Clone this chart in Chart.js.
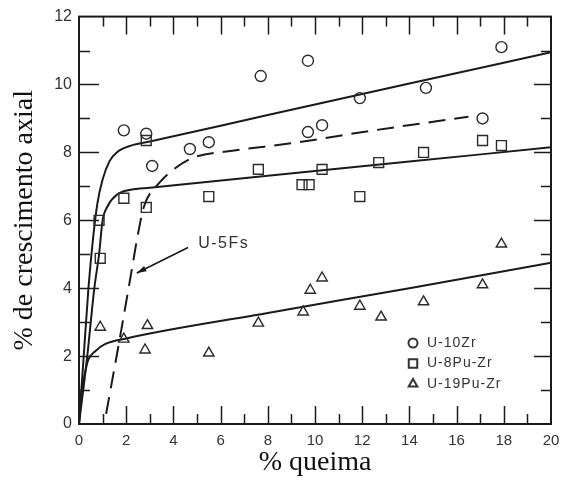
<!DOCTYPE html>
<html>
<head>
<meta charset="utf-8">
<script src="https://cdn.jsdelivr.net/npm/chart.js@4"></script>
<style>
  html, body { margin: 0; padding: 0; background: #fff; }
  #chart { display: block; }
</style>
</head>
<body>
<canvas id="chart" width="569" height="481"></canvas>
<script>
// pontos medidos (% queima, % crescimento axial)
const u10zrPoints = [
    [1.9, 8.65], [2.85, 8.55], [3.1, 7.6], [4.7, 8.1], [5.5, 8.3], [7.7, 10.25],
    [9.7, 10.7], [9.7, 8.6], [10.3, 8.8], [11.9, 9.6], [14.7, 9.9], [17.1, 9.0], [17.9, 11.1]
];
const u8puPoints = [
    [0.85, 6.0], [0.9, 4.88], [1.9, 6.65], [2.85, 6.38], [2.85, 8.35], [5.5, 6.7], [7.6, 7.5],
    [9.45, 7.05], [9.75, 7.05], [10.3, 7.5], [11.9, 6.7], [12.7, 7.7], [14.6, 8.0], [17.1, 8.35], [17.9, 8.2]
];
const u19puPoints = [
    [0.9, 2.85], [1.9, 2.5], [2.9, 2.9], [2.8, 2.18], [5.5, 2.09], [7.6, 2.97], [9.5, 3.3],
    [9.8, 3.94], [10.3, 4.3], [11.9, 3.47], [12.8, 3.15], [14.6, 3.6], [17.1, 4.1], [17.9, 5.3]
];

// curvas ajustadas
const u10zrCurve = [[0, 0], [0.2, 2], [0.4, 4], [0.6, 5.5], [0.78, 6.5], [1.0, 7.2], [1.3, 7.75], [1.6, 8.0], [2.2, 8.2], [3, 8.32], [8, 9.1], [14, 10.03], [20, 10.95]];
const u8puCurve = [[0, 0], [0.35, 2], [0.65, 4], [0.85, 5], [1.0, 6.0], [1.2, 6.4], [1.6, 6.75], [2.2, 6.9], [3, 6.96], [8, 7.31], [14, 7.73], [20, 8.15]];
const u19puCurve = [[0, 0], [0.05, 0.6], [0.12, 1.0], [0.25, 1.5], [0.4, 1.9], [0.7, 2.15], [1.1, 2.35], [2, 2.52], [8, 3.27], [14, 4.0], [20, 4.75]];
const u5fsCurve = [[1.15, 0.3], [1.8, 2.8], [2.2, 4.4], [2.5, 5.6], [2.75, 6.4], [3.4, 7.1], [4.1, 7.55], [4.85, 7.85], [6.5, 8.05], [9, 8.27], [12.5, 8.65], [16.5, 9.05]];

// eixos
const xTicks = [0, 2, 4, 6, 8, 10, 12, 14, 16, 18, 20];
const yTicks = [0, 2, 4, 6, 8, 10, 12];
const legendLabels = ['U-10Zr', 'U-8Pu-Zr', 'U-19Pu-Zr'];
const arrowLabel = 'U-5Fs';
const arrowText = [5.05, 5.3];
const arrowFrom = [4.62, 5.2];
const arrowTo = [2.45, 4.45];

const INK = '#1a1a1a';
const toXY = arr => arr.map(([x, y]) => ({ x, y }));

function markerSet(points, style, radius) {
    return {
        data: toXY(points),
        showLine: false,
        pointStyle: style,
        pointRadius: radius,
        pointBorderWidth: 1.4,
        pointBorderColor: '#2a2a2a',
        pointBackgroundColor: 'rgba(0,0,0,0)'
    };
}

function curveSet(points, dash) {
    return {
        data: toXY(points),
        showLine: true,
        pointRadius: 0,
        borderColor: INK,
        borderWidth: 2,
        borderDash: dash || [],
        cubicInterpolationMode: 'monotone'
    };
}

// moldura, marcas internas, legenda e seta
const decorPlugin = {
    id: 'decor',
    afterDatasetsDraw(chart) {
        const ctx = chart.ctx;
        const a = chart.chartArea;
        const xs = chart.scales.x;
        const ys = chart.scales.y;
        ctx.save();
        ctx.strokeStyle = INK;
        ctx.lineWidth = 1.5;
        ctx.beginPath();
        for (let v = 1; v < 20; v++) {
            const px = Math.round(xs.getPixelForValue(v)) + 0.5;
            const L = v % 2 === 0 ? 18 : 10;
            ctx.moveTo(px, a.bottom); ctx.lineTo(px, a.bottom - L);
            ctx.moveTo(px, a.top); ctx.lineTo(px, a.top + L);
        }
        for (let v = 1; v < 12; v++) {
            const py = Math.round(ys.getPixelForValue(v)) + 0.5;
            ctx.moveTo(a.left, py); ctx.lineTo(a.left + (v % 2 === 0 ? 20 : 11), py);
            ctx.moveTo(a.right, py); ctx.lineTo(a.right - (v % 2 === 0 ? 17 : 10), py);
        }
        ctx.stroke();
        ctx.lineWidth = 2;
        ctx.strokeRect(a.left, a.top, a.right - a.left, a.bottom - a.top);

        // legenda
        const styles = [['circle', 4.5], ['rect', 6], ['triangle', 5]];
        ctx.font = '14px "Liberation Sans", Arial, sans-serif';
        ctx.letterSpacing = '1px';
        ctx.textBaseline = 'middle';
        ctx.textAlign = 'left';
        legendLabels.forEach((label, i) => {
            const lx = a.right - 138;
            const ly = a.bottom - 81 + i * 20.5;
            ctx.strokeStyle = '#333';
            ctx.fillStyle = 'rgba(0,0,0,0)';
            Chart.helpers.drawPoint(ctx, { pointStyle: styles[i][0], radius: styles[i][1], borderWidth: 1.3, rotation: 0 }, lx, ly);
            ctx.fillStyle = '#333';
            ctx.fillText(label, lx + 14, ly);
        });

        // seta U-5Fs
        const x0 = xs.getPixelForValue(arrowFrom[0]), y0 = ys.getPixelForValue(arrowFrom[1]);
        const x1 = xs.getPixelForValue(arrowTo[0]), y1 = ys.getPixelForValue(arrowTo[1]);
        ctx.strokeStyle = INK;
        ctx.lineWidth = 1.6;
        ctx.beginPath();
        ctx.moveTo(x0, y0); ctx.lineTo(x1, y1);
        ctx.stroke();
        const ang = Math.atan2(y1 - y0, x1 - x0);
        ctx.fillStyle = INK;
        ctx.beginPath();
        ctx.moveTo(x1, y1);
        ctx.lineTo(x1 - 10 * Math.cos(ang - 0.3), y1 - 10 * Math.sin(ang - 0.3));
        ctx.lineTo(x1 - 10 * Math.cos(ang + 0.3), y1 - 10 * Math.sin(ang + 0.3));
        ctx.closePath();
        ctx.fill();
        ctx.font = '16px "Liberation Sans", Arial, sans-serif';
        ctx.letterSpacing = '1.5px';
        ctx.fillStyle = '#333';
        ctx.fillText(arrowLabel, xs.getPixelForValue(arrowText[0]), ys.getPixelForValue(arrowText[1]));
        ctx.restore();
    }
};

new Chart(document.getElementById('chart'), {
    type: 'scatter',
    data: {
        datasets: [
            markerSet(u10zrPoints, 'circle', 5.5),
            markerSet(u8puPoints, 'rect', 7),
            markerSet(u19puPoints, 'triangle', 6),
            curveSet(u10zrCurve),
            curveSet(u8puCurve),
            curveSet(u19puCurve),
            curveSet(u5fsCurve, [17, 9])
        ]
    },
    options: {
        responsive: false,
        animation: false,
        events: [],
        layout: { padding: { top: 16, right: 18, left: 0, bottom: 0 } },
        plugins: {
            legend: { display: false },
            tooltip: { enabled: false }
        },
        scales: {
            x: {
                type: 'linear',
                min: 0,
                max: 20,
                afterBuildTicks: scale => { scale.ticks = xTicks.map(v => ({ value: v })); },
                afterFit: scale => { scale.height = 57; },
                grid: { display: false, drawTicks: false },
                border: { display: false },
                ticks: {
                    padding: 8,
                    color: '#333',
                    font: { family: '"Liberation Sans", Arial, sans-serif', size: 15 }
                },
                title: {
                    display: true,
                    text: '% queima',
                    color: '#111',
                    padding: { top: 0, bottom: 2 },
                    font: { family: '"Liberation Serif", "Times New Roman", serif', size: 28 }
                }
            },
            y: {
                type: 'linear',
                min: 0,
                max: 12,
                afterBuildTicks: scale => { scale.ticks = yTicks.map(v => ({ value: v })); },
                afterFit: scale => { scale.width = 79; },
                grid: { display: false, drawTicks: false },
                border: { display: false },
                ticks: {
                    padding: 7,
                    color: '#333',
                    font: { family: '"Liberation Sans", Arial, sans-serif', size: 16 }
                },
                title: {
                    display: true,
                    text: '% de crescimento axial',
                    color: '#111',
                    padding: { top: 8, bottom: 0 },
                    font: { family: '"Liberation Serif", "Times New Roman", serif', size: 28 }
                }
            }
        }
    },
    plugins: [decorPlugin]
});
</script>
</body>
</html>
